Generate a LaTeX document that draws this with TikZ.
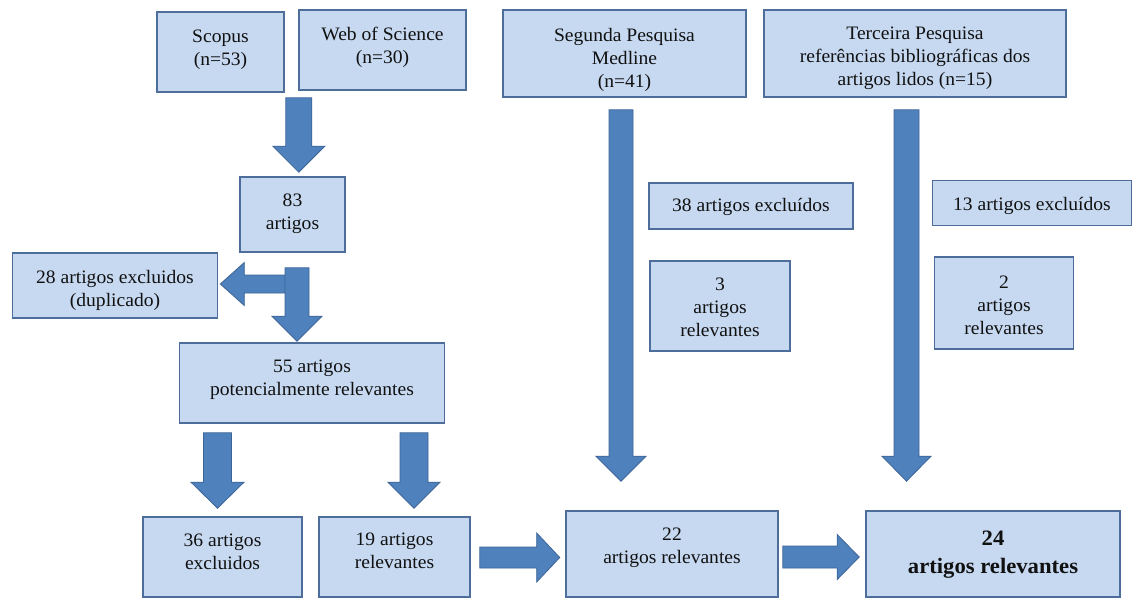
\documentclass[tikz,border=0pt]{standalone}
\usepackage{fontspec}
\setmainfont{Liberation Serif}[FakeStretch=1.03]
\usetikzlibrary{calc}
\definecolor{boxfill}{HTML}{C6D9F1}
\definecolor{boxline}{HTML}{4D6D9A}
\definecolor{arrfill}{HTML}{4F81BD}
\definecolor{arrline}{HTML}{3C6496}
\definecolor{txt}{HTML}{111111}
\newcommand{\lift}[2]{\raisebox{#1}[\height][\depth]{\begin{tabular}{@{}c@{}}#2\end{tabular}}}
% down block arrow: #1 top point, #2 tip point (y used), #3 shaft half, #4 head half, #5 head length
\newcommand{\downblock}[5]{%
  \path[blockarrow] let \p1=#1, \p2=#2 in
    (\x1-#3,\y1) -- (\x1+#3,\y1) -- (\x1+#3,\y2+#5) -- (\x1+#4,\y2+#5) -- (\x1,\y2)
    -- (\x1-#4,\y2+#5) -- (\x1-#3,\y2+#5) -- cycle;}
% right block arrow: #1 start point, #2 tip point (x used)
\newcommand{\rightblock}[5]{%
  \path[blockarrow] let \p1=#1, \p2=#2 in
    (\x1,\y1-#3) -- (\x1,\y1+#3) -- (\x2-#5,\y1+#3) -- (\x2-#5,\y1+#4) -- (\x2,\y1)
    -- (\x2-#5,\y1-#4) -- (\x2-#5,\y1-#3) -- cycle;}
% left block arrow
\newcommand{\leftblock}[5]{%
  \path[blockarrow] let \p1=#1, \p2=#2 in
    (\x1,\y1-#3) -- (\x1,\y1+#3) -- (\x2+#5,\y1+#3) -- (\x2+#5,\y1+#4) -- (\x2,\y1)
    -- (\x2+#5,\y1-#4) -- (\x2+#5,\y1-#3) -- cycle;}
\begin{document}
\begin{tikzpicture}[x=1pt,y=-1pt,
  box/.style={draw=boxline, fill=boxfill, line width=1.6pt, inner sep=0pt, text=txt,
    font=\fontsize{19}{23}\selectfont},
  bigbox/.style={box, font=\fontsize{22}{28}\selectfont\bfseries},
  blockarrow/.style={fill=arrfill, draw=arrline, line width=0.8pt}]
\useasboundingbox[fill=white] (0,0) rectangle (1134,598);

% sources
\node[box, minimum width=127pt, minimum height=80pt] (scopus) at (220.5,52) {\lift{3pt}{Scopus\\(n=53)}};
\node[box, minimum width=167pt, minimum height=80pt] (wos) at (382.5,50) {\lift{3pt}{Web of Science\\(n=30)}};
\node[box, minimum width=243pt, minimum height=87pt] (seg) at (624.5,53.5) {\lift{-6pt}{Segunda Pesquisa\\Medline\\(n=41)}};
\node[box, minimum width=302pt, minimum height=87pt] (ter) at (915,53.5) {\lift{-4.5pt}{Terceira Pesquisa\\referências bibliográficas dos\\artigos lidos (n=15)}};

% left branch
\node[box, minimum width=105pt, minimum height=75pt] (n83) at (292.5,214.5) {\lift{1.5pt}{83\\artigos}};
\node[box, minimum width=205pt, minimum height=65pt] (n28) at (115,285.5) {\lift{-5pt}{28 artigos excluidos\\(duplicado)}};
\node[box, minimum width=265pt, minimum height=80pt] (n55) at (312,383) {\lift{3.5pt}{55 artigos\\potencialmente relevantes}};
\node[box, minimum width=159pt, minimum height=80pt] (n36) at (222.5,557) {\lift{3.5pt}{36 artigos\\excluidos}};
\node[box, minimum width=151pt, minimum height=80pt] (n19) at (394.5,557) {\lift{5pt}{19 artigos\\relevantes}};

% middle
\node[box, minimum width=204pt, minimum height=46pt] (n38) at (751,206) {\lift{-1pt}{38 artigos excluídos}};
\node[box, minimum width=140pt, minimum height=90pt] (n3) at (720,306) {\lift{-3pt}{3\\artigos\\relevantes}};
\node[box, minimum width=212pt, minimum height=86pt] (n22) at (672,554) {\lift{6.5pt}{22\\artigos relevantes}};

% right
\node[box, minimum width=199pt, minimum height=45pt] (n13) at (1032,203) {\lift{-3pt}{13 artigos excluídos}};
\node[box, minimum width=139pt, minimum height=92pt] (n2) at (1004,303) {\lift{-4pt}{2\\artigos\\relevantes}};
\node[bigbox, minimum width=254pt, minimum height=86pt] (n24) at (993,554) {\lift{0.5pt}{24\\artigos relevantes}};

% arrows
\downblock{($(scopus.south east)+(14,5)$)}{($(n83.north)+(0,-4)$)}{13pt}{26pt}{26pt}
\leftblock{($(n28.east)+(67,-1.5)$)}{($(n28.east)+(2,0)$)}{9pt}{21.5pt}{24pt}
\downblock{($(n83.south)+(4.5,15)$)}{($(n55.north)+(0,-1)$)}{12pt}{25pt}{25pt}
\downblock{($(n36.north |- n55.south)+(-5,9)$)}{($(n36.north)+(0,-8)$)}{14pt}{26.5pt}{26pt}
\downblock{($(n19.north |- n55.south)+(19.5,9)$)}{($(n19.north)+(0,-8)$)}{14pt}{26pt}{26pt}
\rightblock{($(n19.east)+(9,0.5)$)}{($(n22.west)+(-5.5,0)$)}{10.5pt}{24.5pt}{23pt}
\rightblock{($(n22.east)+(4,3)$)}{($(n24.west)+(-6,0)$)}{11pt}{22.5pt}{22pt}
\downblock{($(seg.south)+(-3.5,12)$)}{($(n22.north)+(0,-29)$)}{12pt}{25pt}{25pt}
\downblock{($(ter.south)+(-8.5,12)$)}{($(n24.north)+(0,-29)$)}{12.5pt}{24.5pt}{25pt}
\end{tikzpicture}
\end{document}
